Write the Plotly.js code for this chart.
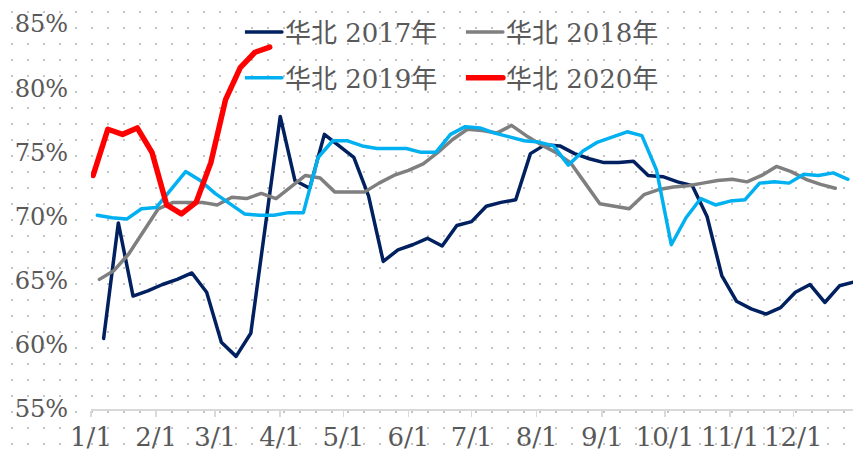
<!DOCTYPE html>
<html>
<head>
<meta charset="utf-8">
<script src="https://cdn.plot.ly/plotly-3.0.1.min.js"></script>
<style>
  html, body { margin: 0; padding: 0; }
  body {
    width: 853px; height: 454px; overflow: hidden;
    background-color: #ffffff;
    background-image: radial-gradient(circle, #c4c4c4 1px, rgba(255,255,255,0) 1.3px);
    background-size: 16px 16px;
    background-position: 4px 4px;
  }
  #chart { width: 853px; height: 454px; }
  .scatterlayer path.js-line, .legendlines path { stroke-linejoin: round; stroke-linecap: round; }
</style>
</head>
<body>
<div id="chart"></div>
<script>
// Series names (legend labels)
const names = ['华北 2017年', '华北 2018年', '华北 2019年', '华北 2020年'];
// First weekly observation (mapped onto a common calendar year) for each series
const startDates = ['2019-01-07', '2019-01-05', '2019-01-04', '2019-01-02'];
// Weekly values, %
const v2017 = [60.5, 69.5, 63.8, 64.2, 64.7, 65.1, 65.6, 64.1, 60.2, 59.1,
               60.9, 69.3, 77.8, 72.8, 72.2, 76.4, 75.5, 74.6, 71.6, 66.5,
               67.4, 67.8, 68.3, 67.7, 69.3, 69.6, 70.8, 71.1, 71.3, 74.9,
               75.6, 75.5, 74.9, 74.5, 74.2, 74.2, 74.3, 73.2, 73.1, 72.7,
               72.4, 70.0, 65.4, 63.4, 62.8, 62.4, 62.9, 64.1, 64.7, 63.3,
               64.6, 64.9];
const v2018 = [65.1, 65.8, 67.1, 68.8, 70.6, 71.1, 71.1, 71.1, 70.9, 71.5,
               71.4, 71.8, 71.4, 72.3, 73.2, 73.0, 71.9, 71.9, 71.9, 72.6,
               73.2, 73.6, 74.1, 75.0, 76.0, 76.8, 76.7, 76.5, 77.1, 76.3,
               75.6, 75.0, 74.2, 72.6, 71.0, 70.8, 70.6, 71.7, 72.1, 72.3,
               72.4, 72.6, 72.8, 72.9, 72.7, 73.2, 73.9, 73.5, 72.9, 72.5,
               72.2];
const v2019 = [70.1, 69.9, 69.8, 70.6, 70.7, 72.1, 73.5, 72.8, 71.8, 71.0,
               70.2, 70.1, 70.1, 70.3, 70.3, 74.6, 75.9, 75.9, 75.5, 75.3,
               75.3, 75.3, 75.0, 75.0, 76.4, 77.0, 76.9, 76.5, 76.2, 75.9,
               75.8, 75.5, 74.0, 75.1, 75.8, 76.2, 76.6, 76.3, 73.6, 67.8,
               69.9, 71.4, 70.9, 71.2, 71.3, 72.6, 72.7, 72.6, 73.3, 73.2,
               73.4, 72.9];
const v2020 = [73.2, 76.8, 76.4, 76.9, 75.0, 70.9, 70.2, 71.1, 74.2, 79.1,
               81.6, 82.8, 83.2];
// Y tick values and labels
const yTicks = [55, 60, 65, 70, 75, 80, 85];
const yTickText = ['55%', '60%', '65%', '70%', '75%', '80%', '85%'];

const colors = ['#002060', '#7f7f7f', '#00b0f0', '#ff0000'];
const widths = [3.5, 3.5, 3.5, 5.5];
const series = [v2017, v2018, v2019, v2020];
const legendIds = ['legend', 'legend2', 'legend3', 'legend4'];

function weeklyDates(start, n) {
  const out = [];
  const t0 = Date.parse(start + 'T00:00:00Z');
  for (let i = 0; i < n; i++) {
    const d = new Date(t0 + i * 7 * 86400000);
    out.push(d.toISOString().slice(0, 10));
  }
  return out;
}

const traces = series.map((vals, k) => ({
  type: 'scatter',
  mode: 'lines',
  name: names[k],
  x: weeklyDates(startDates[k], vals.length),
  y: vals,
  line: { color: colors[k], width: widths[k] },
  legend: legendIds[k],
  hoverinfo: 'skip'
}));

const fontFam = '"DejaVu Serif", "Noto Sans CJK SC", serif';
const legFont = { family: fontFam, size: 26, color: '#595959' };
function leg(x, y) {
  return { x: x, y: y, xanchor: 'left', yanchor: 'middle', orientation: 'v',
           bgcolor: 'rgba(0,0,0,0)', borderwidth: 0, font: legFont };
}

const layout = {
  width: 853, height: 454,
  margin: { l: 91, r: 0, t: 24, b: 45 },
  paper_bgcolor: 'rgba(0,0,0,0)',
  plot_bgcolor: 'rgba(0,0,0,0)',
  showlegend: true,
  legend: leg(0.202, 0.979),
  legend2: leg(0.492, 0.979),
  legend3: leg(0.202, 0.86),
  legend4: leg(0.492, 0.86),
  xaxis: {
    type: 'date',
    range: ['2019-01-01', '2019-12-29 10:00'],
    tick0: '2019-01-01', dtick: 'M1',
    tickformat: '%-m/%-d',
    tickangle: 0,
    ticks: 'outside', ticklen: 6, tickwidth: 1.5, tickcolor: '#d9d9d9',
    showline: true, linecolor: '#d9d9d9', linewidth: 1.5,
    showgrid: false, zeroline: false,
    ticklabelstandoff: -2,
    tickfont: { family: fontFam, size: 26, color: '#595959' }
  },
  yaxis: {
    range: [55, 85],
    tickmode: 'array',
    tickvals: yTicks,
    ticktext: yTickText,
    ticks: '', showline: false, showgrid: false, zeroline: false,
    ticklabelstandoff: 22,
    tickfont: { family: fontFam, size: 24, color: '#595959' }
  }
};

Plotly.newPlot('chart', traces, layout, { staticPlot: true, displayModeBar: false }).then(() => {
  document.querySelectorAll('.legendlines path').forEach(p => p.setAttribute('d', 'M-17,0h54'));
});
</script>
</body>
</html>
